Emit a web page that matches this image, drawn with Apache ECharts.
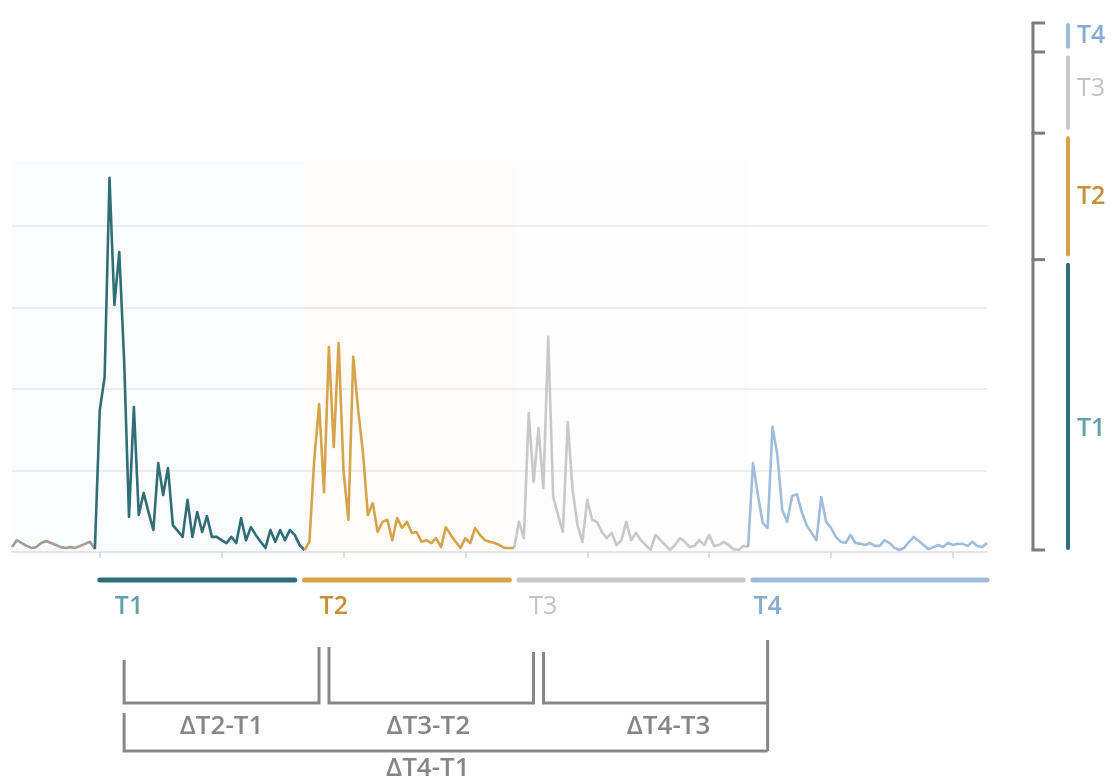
<!DOCTYPE html>
<html>
<head>
<meta charset="utf-8">
<script src="https://cdn.jsdelivr.net/npm/echarts@6/dist/echarts.min.js"></script>
<style>
html,body{margin:0;padding:0;background:#fff;}
#c{width:1111px;height:781px;}
</style>
</head>
<body>
<div id="c"></div>
<script>
// ---------- DATA ----------
const sampleCount = 201;                       // time samples 0..200
const tickLabels = [];                         // x ticks carry no labels
const phaseNames = ['T1', 'T2', 'T3', 'T4'];
const phaseColors = ['#2f6e77', '#d6a34b', '#c8c8c8', '#9fbcda'];
const phaseLabelColors = ['#62a2ac', '#c6903a', '#c2c2c2', '#86abd2'];
const baselineColor = '#a89a8e';

// signal values (start index + values)
const preStart = 0;
const preValues = [1.2, 2.9, 2.2, 1.5, 1.0, 1.2, 2.2, 2.7, 2.2, 1.7, 1.2, 1.0, 1.2, 1.0, 1.5, 2.0, 2.5, 0.7];
const t1Start = 17;
const t1Values = [0.7, 34.8, 42.9, 91.8, 60.6, 73.6, 47.1, 8.6, 35.6, 9.1,
  14.5, 9.8, 5.4, 21.8, 14.0, 20.6, 6.6, 5.2, 3.7, 12.8,
  3.7, 9.8, 4.9, 8.8, 3.7, 3.7, 2.9, 2.2, 3.7, 2.2,
  8.3, 2.9, 6.1, 4.2, 2.5, 1.0, 5.4, 2.5, 5.4, 2.9,
  5.4, 4.2, 1.7, 0.5];
const t2Start = 60;
const t2Values = [0.5, 2.5, 22.6, 36.3, 14.7, 50.3, 25.8, 51.3, 20.0, 7.9,
  47.9, 34.8, 24.3, 9.1, 12.0, 4.9, 7.4, 7.9, 2.9, 8.3,
  5.9, 7.4, 4.7, 4.9, 2.5, 2.9, 2.2, 3.4, 1.2, 6.1,
  4.2, 2.5, 1.0, 3.4, 2.2, 5.9, 4.2, 2.9, 2.5, 2.2,
  1.7, 1.0, 1.0, 1.0];
const t3Start = 103;
const t3Values = [1.0, 7.4, 3.4, 34.1, 17.2, 30.4, 15.7, 52.8, 13.5, 9.1,
  4.9, 31.9, 15.2, 6.6, 2.5, 12.8, 7.9, 7.4, 4.9, 3.4,
  4.7, 1.7, 2.9, 7.4, 2.9, 4.7, 2.9, 1.7, 0.5, 4.2,
  2.9, 1.7, 0.5, 1.7, 3.4, 2.5, 1.2, 1.5, 2.9, 1.7,
  4.2, 1.5, 1.7, 2.5, 1.7, 0.7, 0.5, 1.5, 1.2];
const t4Start = 151;
const t4Values = [1.2, 21.8, 14.0, 7.1, 5.9, 30.7, 23.8, 10.3, 7.4, 13.7,
  14.2, 9.8, 6.6, 4.7, 2.9, 13.5, 7.4, 5.9, 3.7, 2.5,
  2.2, 4.2, 2.2, 2.0, 1.7, 2.2, 1.5, 1.5, 2.9, 2.2,
  1.0, 0.5, 1.0, 2.5, 3.7, 2.7, 1.7, 0.7, 1.2, 1.7,
  1.2, 2.2, 1.7, 2.0, 2.0, 1.5, 2.5, 1.5, 1.2, 2.2];

// phase windows on the time axis (sample indices)
const windowRanges = [[18, 58], [60, 102], [104, 150], [152, 200]];
const windowLabelIdx = [23.5, 66, 108.5, 155];
const markIdx = [23, 63.8, 108.2, 155];
const deltaLabels = ['ΔT2-T1', 'ΔT3-T2', 'ΔT4-T3', 'ΔT4-T1'];
const deltaLabelShift = [0, -3, 13, -18];

// right-hand stacked shares (bottom to top: T1..T4), gap between them
const shareValues = [54.5, 22.8, 14.2, 4.9];
const shareGap = 1.2;

// ---------- BUILD ----------
const categories = Array.from({length: sampleCount}, (_, i) => String(i));
function pad(start, vals) {
  const a = new Array(sampleCount).fill(null);
  vals.forEach((v, k) => { a[start + k] = v; });
  return a;
}
const phaseData = [pad(t1Start, t1Values), pad(t2Start, t2Values), pad(t3Start, t3Values), pad(t4Start, t4Values)];
const tint = ['rgba(220,228,236,0.12)', 'rgba(246,226,192,0.10)', 'rgba(232,232,232,0.08)'];
const tintRanges = [[0, 60], [60, 103], [103, 151]];
const LW = 2.6;

const series = [];
series.push({
  type: 'line', name: 'pre', data: pad(preStart, preValues), showSymbol: false,
  xAxisIndex: 0, yAxisIndex: 0,
  lineStyle: {color: baselineColor, width: LW}, itemStyle: {color: baselineColor}, z: 3
});
phaseNames.forEach((n, k) => {
  const s = {
    type: 'line', name: n, data: phaseData[k], showSymbol: false,
    xAxisIndex: 0, yAxisIndex: 0,
    lineStyle: {color: phaseColors[k], width: LW, join: 'round'}, itemStyle: {color: phaseColors[k]}, z: 3
  };
  if (k < 3) {
    s.markArea = {
      silent: true,
      itemStyle: {color: tint[k]},
      data: [[{xAxis: tintRanges[k][0], yAxis: 0}, {xAxis: tintRanges[k][1], yAxis: 96}]]
    };
  }
  series.push(s);
});

// right stacked bar
const shareOrder = [];
phaseNames.forEach((n, k) => {
  shareOrder.push({name: n, value: shareValues[k], color: phaseColors[k], k: k});
  if (k < 3) shareOrder.push({name: 'gap' + k, value: shareGap, color: 'rgba(0,0,0,0)', gap: true});
});
shareOrder.forEach(o => {
  series.push({
    type: 'bar', name: o.name, stack: 'share', xAxisIndex: 1, yAxisIndex: 1,
    barWidth: 4, silent: !!o.gap,
    data: [o.value],
    itemStyle: {color: o.color, borderRadius: o.gap ? 0 : 2},
    label: o.gap ? {show: false} : {
      show: true, position: 'right', distance: 7,
      formatter: o.name,
      color: phaseLabelColors[o.k],
      fontFamily: 'Open Sans', fontSize: 25,
      fontWeight: o.k === 2 ? 400 : 600,
      offset: o.k === 0 ? [0, 22] : (o.k === 2 ? [0, -4] : [0, 0])
    }
  });
});

const chart = echarts.init(document.getElementById('c'));
chart.setOption({
  animation: false,
  backgroundColor: '#ffffff',
  grid: [
    {left: 12, width: 975, top: 144.5, height: 407.5},
    {left: 1058, width: 20, top: 23, height: 527}
  ],
  xAxis: [
    {
      type: 'category', gridIndex: 0, data: categories, boundaryGap: false,
      axisLine: {show: true, lineStyle: {color: '#dfe3e7', width: 1.5}},
      axisTick: {show: true, length: 6, lineStyle: {color: '#cfd3d6', width: 1.5},
        interval: (idx) => idx >= 18 && (idx - 18) % 25 === 0},
      axisLabel: {show: false},
      splitLine: {show: false}
    },
    {type: 'category', gridIndex: 1, data: ['share'], show: false}
  ],
  yAxis: [
    {
      type: 'value', gridIndex: 0, min: 0, max: 100, interval: 20,
      axisLine: {show: false}, axisTick: {show: false}, axisLabel: {show: false},
      splitLine: {show: true, lineStyle: {color: ['#e6e9ec', '#e6e9ec', '#e6e9ec', '#e6e9ec', '#e6e9ec', 'rgba(0,0,0,0)'], width: 1.5}}
    },
    {type: 'value', gridIndex: 1, min: 0, max: 100, show: false}
  ],
  series: series
});

// ---------- ANNOTATIONS (positioned through the axes) ----------
function px(i) { return chart.convertToPixel({gridIndex: 0}, [i, 0])[0]; }
function py2(v) { return chart.convertToPixel({gridIndex: 1}, [0, v])[1]; }
const g = [];
const barY = 580;
windowRanges.forEach((r, k) => {
  g.push({type: 'line', silent: true,
    shape: {x1: px(r[0]), y1: barY, x2: px(r[1]), y2: barY},
    style: {stroke: phaseColors[k], lineWidth: 5, lineCap: 'round'}});
  g.push({type: 'text', silent: true, x: px(windowLabelIdx[k]), y: 607,
    style: {text: phaseNames[k], fill: phaseLabelColors[k], align: 'center', verticalAlign: 'middle',
      font: (k === 2 ? '400' : '600') + ' 25px "Open Sans"'}});
});
const br = '#878787';
const m = markIdx.map(px);
const bot = 703;
const lines = [
  [[m[0], 660], [m[0], bot], [m[1] - 5, bot], [m[1] - 5, 647]],
  [[m[1] + 5, 647], [m[1] + 5, bot], [m[2] - 5, bot], [m[2] - 5, 652]],
  [[m[2] + 5, 652], [m[2] + 5, bot], [m[3], bot]],
  [[m[3], 640], [m[3], 751]],
  [[m[0], 713], [m[0], 751], [m[3], 751]]
];
lines.forEach(p => g.push({type: 'polyline', silent: true, shape: {points: p},
  style: {stroke: br, lineWidth: 3, fill: null, lineJoin: 'miter'}}));
const dCenters = [(m[0] + m[1] - 5) / 2, (m[1] + m[2]) / 2, (m[2] + 5 + m[3]) / 2, (m[0] + m[3]) / 2];
const dY = [727, 727, 727, 769];
deltaLabels.forEach((t, k) => g.push({type: 'text', silent: true, x: dCenters[k] + deltaLabelShift[k], y: dY[k],
  style: {text: t, fill: '#868686', align: 'center', verticalAlign: 'middle', font: '600 26px "Open Sans"'}}));

// right bracket
const bx = 1033;
const tickVals = [0, shareValues[0] + shareGap / 2,
  shareValues[0] + shareGap + shareValues[1] + shareGap / 2,
  shareValues[0] + shareGap + shareValues[1] + shareGap + shareValues[2] + shareGap / 2, 100];
const topY = py2(100), botY = py2(0);
g.push({type: 'line', silent: true, shape: {x1: bx, y1: topY, x2: bx, y2: botY},
  style: {stroke: '#7d7d7d', lineWidth: 3}});
tickVals.forEach(v => {
  const y = py2(v);
  g.push({type: 'line', silent: true, shape: {x1: bx - 1.5, y1: y, x2: bx + 12, y2: y},
    style: {stroke: '#7d7d7d', lineWidth: 3}});
});
chart.setOption({graphic: g});
</script>
</body>
</html>
